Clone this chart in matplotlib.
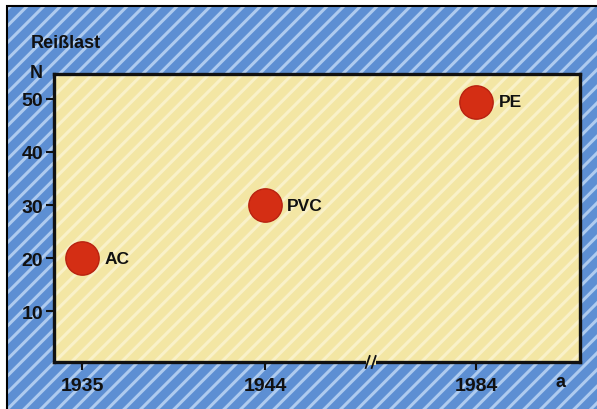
import numpy as np
import matplotlib
matplotlib.use('Agg')
from matplotlib import pyplot as plt
from matplotlib.patches import Rectangle

years = [1935, 1944, 1984]
loads = [20, 30, 49.5]
materials = ['AC', 'PVC', 'PE']
yticks = [10, 20, 30, 40, 50]

# broken x axis: the years between the break marks are squeezed out
gap_start, gap_end = 1949.2, 1978.8


def forward(x):
    return np.interp(x, [1800, gap_start, gap_end, 2200],
                     [1800, gap_start, gap_start + 0.01, 2200 - (gap_end - gap_start) + 0.01])


def inverse(x):
    return np.interp(x, [1800, gap_start, gap_start + 0.01, 2200 - (gap_end - gap_start) + 0.01],
                     [1800, gap_start, gap_end, 2200])


plt.rcParams['font.family'] = ['Liberation Sans', 'DejaVu Sans']
plt.rcParams['font.weight'] = 'bold'
plt.rcParams['hatch.linewidth'] = 2.2

fig = plt.figure(figsize=(5.97, 4.10), dpi=100)
fig.patch.set_facecolor('white')

W, H = 597, 410
# blue striped background panel
fig.patches.append(Rectangle((7 / W, 0), 1, (H - 7) / H, transform=fig.transFigure,
                             facecolor='#5d8fd3', edgecolor='#aecbef', hatch='//',
                             linewidth=0, zorder=-10))
fig.patches.append(Rectangle((7 / W, -0.01), 1, (H - 7) / H + 0.01, transform=fig.transFigure,
                             facecolor='none', edgecolor='black', linewidth=1.5, zorder=-9))

ax = fig.add_axes([54 / W, 47 / H, (580 - 54) / W, (363 - 75) / H])
ax.set_facecolor('#f3e6a4')
ax.add_patch(Rectangle((0, 0), 1, 1, transform=ax.transAxes, facecolor='#f3e6a4',
                       edgecolor='#f9f1c9', hatch='//', linewidth=0, zorder=0))

ax.set_xscale('function', functions=(forward, inverse))
ax.set_xlim(1933.6, 1989.1)
ax.set_ylim(0.4, 54.7)

ax.plot(years, loads, 'o', color='#d42e14', markeredgecolor='#b82210',
        markersize=24, markeredgewidth=1, zorder=3, linestyle='none')
for yr, ld, name in zip(years, loads, materials):
    ax.annotate(name, (yr, ld), xytext=(16, 0), textcoords='offset points',
                ha='left', va='center', fontsize=12.5, fontweight='bold', color='#111111')

ax.set_xticks(years)
ax.set_xticklabels([str(y) for y in years])
ax.set_yticks(yticks)
ax.xaxis.set_minor_locator(matplotlib.ticker.NullLocator())
ax.tick_params(axis='both', direction='out', length=6, width=1.5, labelsize=14,
               colors='#111111')
ax.tick_params(axis='y', pad=2)
ax.tick_params(axis='x', pad=5)
for lab in ax.get_xticklabels() + ax.get_yticklabels():
    lab.set_fontweight('bold')

for sp in ax.spines.values():
    sp.set_linewidth(2.4)
    sp.set_color('#111111')

# break marks on the x axis, drawn in axes fraction
fig.canvas.draw()
bx = ax.transAxes.inverted().transform(ax.transData.transform((gap_start, 1)))[0]
px = 1 / ax.bbox.width
py = 1 / ax.bbox.height
ax.add_patch(Rectangle((bx - 5 * px, -3 * py), 10 * px, 6 * py, transform=ax.transAxes,
                       facecolor='#f3e6a4', edgecolor='none', clip_on=False, zorder=4))
for dx in (-3, 3):
    ax.plot([bx + (dx - 2) * px, bx + (dx + 2) * px], [-6 * py, 6 * py],
            transform=ax.transAxes, color='#111111', lw=1.3, clip_on=False, zorder=5)

fig.text(31 / W, 1 - 43 / H, 'Reißlast', fontsize=13, fontweight='bold',
         ha='left', va='center', color='#111111')
fig.text(36 / W, 1 - 74 / H, 'N', fontsize=13, fontweight='bold',
         ha='center', va='center', color='#111111')
fig.text(560 / W, 1 - 383 / H, 'a', fontsize=13, fontweight='bold',
         ha='center', va='center', color='#111111')

fig.savefig('out.png', dpi=100)
